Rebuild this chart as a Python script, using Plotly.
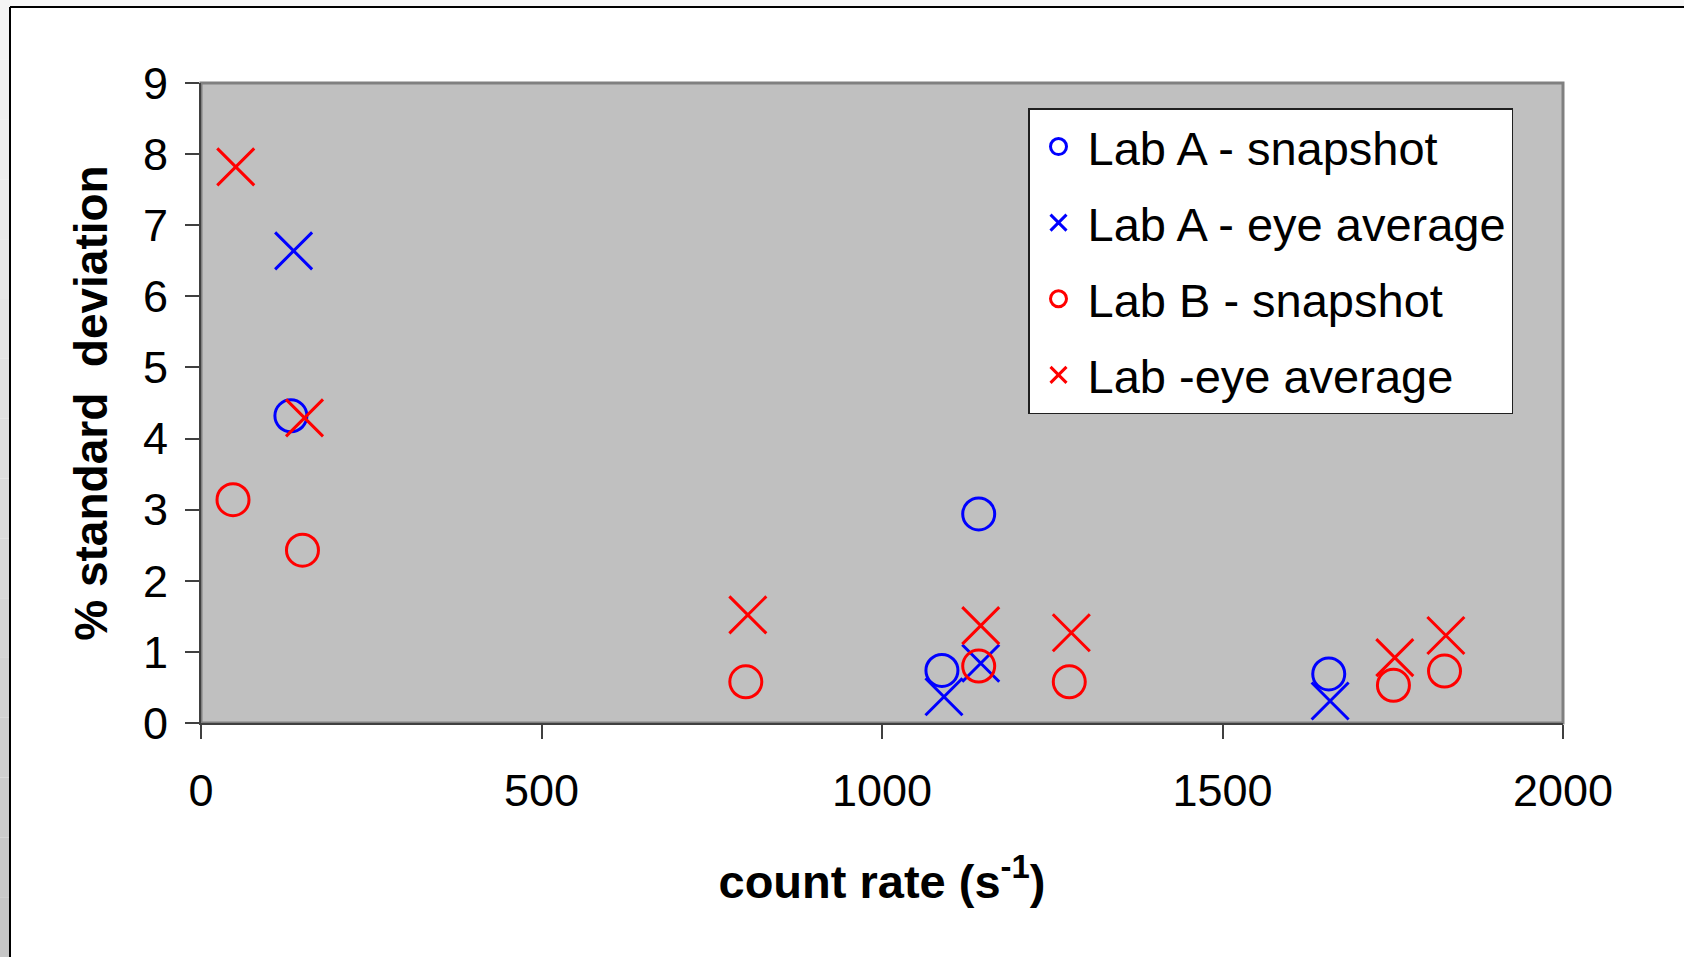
import plotly.graph_objects as go

# ---- data ----
lab_a_snap_x = [132, 1142, 1088, 1656]
lab_a_snap_y = [4.32, 2.94, 0.74, 0.69]
lab_a_eye_x = [136, 1145, 1091, 1658]
lab_a_eye_y = [6.64, 0.84, 0.37, 0.31]
lab_b_snap_x = [47, 149, 800, 1142, 1275, 1751, 1826]
lab_b_snap_y = [3.14, 2.43, 0.58, 0.80, 0.58, 0.53, 0.73]
lab_b_eye_x = [51, 152, 803, 1145, 1278, 1753, 1828]
lab_b_eye_y = [7.82, 4.29, 1.52, 1.37, 1.27, 0.92, 1.23]

series_names = ["Lab A - snapshot", "Lab A - eye average", "Lab B - snapshot", "Lab -eye average"]
x_ticks = [0, 500, 1000, 1500, 2000]
y_ticks = [0, 1, 2, 3, 4, 5, 6, 7, 8, 9]

# ---- layout geometry (pixels) ----
W, H = 1684, 957
L, R, T, B = 201, 1563, 83, 723
PW, PH = R - L, B - T


def px(x):
    return (x - L) / PW


def py(y):
    return (B - y) / PH


FONT = "Liberation Sans, Arial, sans-serif"
BLUE = "#0000ff"
RED = "#ff0000"

fig = go.Figure()

specs = [
    (lab_a_snap_x, lab_a_snap_y, series_names[0], BLUE, "circle-open", 32, "a"),
    (lab_a_eye_x, lab_a_eye_y, series_names[1], BLUE, "x-thin-open", 37, "b"),
    (lab_b_snap_x, lab_b_snap_y, series_names[2], RED, "circle-open", 32, "c"),
    (lab_b_eye_x, lab_b_eye_y, series_names[3], RED, "x-thin-open", 37, "d"),
]
for xs, ys, name, col, sym, size, grp in specs:
    fig.add_trace(go.Scatter(
        x=xs, y=ys, name=name, mode="markers", legendgroup=grp,
        marker=dict(symbol=sym, size=size, color=col,
                    line=dict(color=col, width=3)),
    ))

shapes = []
# top light strip and left gradient strip of the chart window
shapes.append(dict(type="rect", xref="paper", yref="paper",
                   x0=px(0), x1=px(W), y0=py(0), y1=py(7),
                   fillcolor="#f7f7f7", line=dict(width=0), layer="below"))
n_bands = 16
for i in range(n_bands):
    y0 = i * H / n_bands
    y1 = (i + 1) * H / n_bands
    g = int(0xf4 - (0xf4 - 0xc6) * i / (n_bands - 1))
    col = "#%02x%02x%02x" % (g, g, g)
    shapes.append(dict(type="rect", xref="paper", yref="paper",
                       x0=px(0), x1=px(10), y0=py(y0), y1=py(y1),
                       fillcolor=col, line=dict(width=0), layer="below"))
# black window frame lines
shapes.append(dict(type="line", xref="paper", yref="paper",
                   x0=px(10), x1=px(W), y0=py(7), y1=py(7),
                   line=dict(color="black", width=2)))
shapes.append(dict(type="line", xref="paper", yref="paper",
                   x0=px(10), x1=px(10), y0=py(7), y1=py(H),
                   line=dict(color="black", width=2)))
# plot area gray frame (top/right)
shapes.append(dict(type="rect", xref="paper", yref="paper",
                   x0=0, x1=1, y0=0, y1=1,
                   line=dict(color="#808080", width=3), layer="below"))

fig.update_layout(
    width=W, height=H,
    margin=dict(l=L, r=W - R, t=T, b=H - B, pad=0),
    paper_bgcolor="white",
    plot_bgcolor="#c0c0c0",
    font=dict(family=FONT, color="black", size=45),
    shapes=shapes,
    showlegend=True,
    legend=dict(
        x=px(1028), y=py(108), xanchor="left", yanchor="top",
        bgcolor="white", bordercolor="#202020", borderwidth=1.5,
        font=dict(family=FONT, size=47, color="black"),
        tracegroupgap=12, traceorder="grouped",
        itemwidth=48,
    ),
    xaxis=dict(
        range=[0, 2000], tickvals=x_ticks, ticktext=[str(v) for v in x_ticks],
        showgrid=False, zeroline=False,
        showline=True, linecolor="#404040", linewidth=2,
        ticks="outside", ticklen=14, tickwidth=1.5, tickcolor="#404040",
        tickfont=dict(family=FONT, size=45, color="black"),
        ticklabelstandoff=13,
        title=dict(text="<b>count rate (s<sup>-1</sup>)</b>",
                   font=dict(family=FONT, size=47, color="black"),
                   standoff=50),
    ),
    yaxis=dict(
        range=[0, 9], tickvals=y_ticks, ticktext=[str(v) for v in y_ticks],
        showgrid=False, zeroline=False,
        showline=True, linecolor="#404040", linewidth=2,
        ticks="outside", ticklen=14, tickwidth=1.5, tickcolor="#404040",
        tickfont=dict(family=FONT, size=45, color="black"),
        ticklabelstandoff=8,
        title=dict(text="<b>% standard  deviation</b>",
                   font=dict(family=FONT, size=46, color="black"),
                   standoff=21),
    ),
)

fig.write_html("out.html", config={"displayModeBar": False},
               post_script="document.body.style.margin='0';")
